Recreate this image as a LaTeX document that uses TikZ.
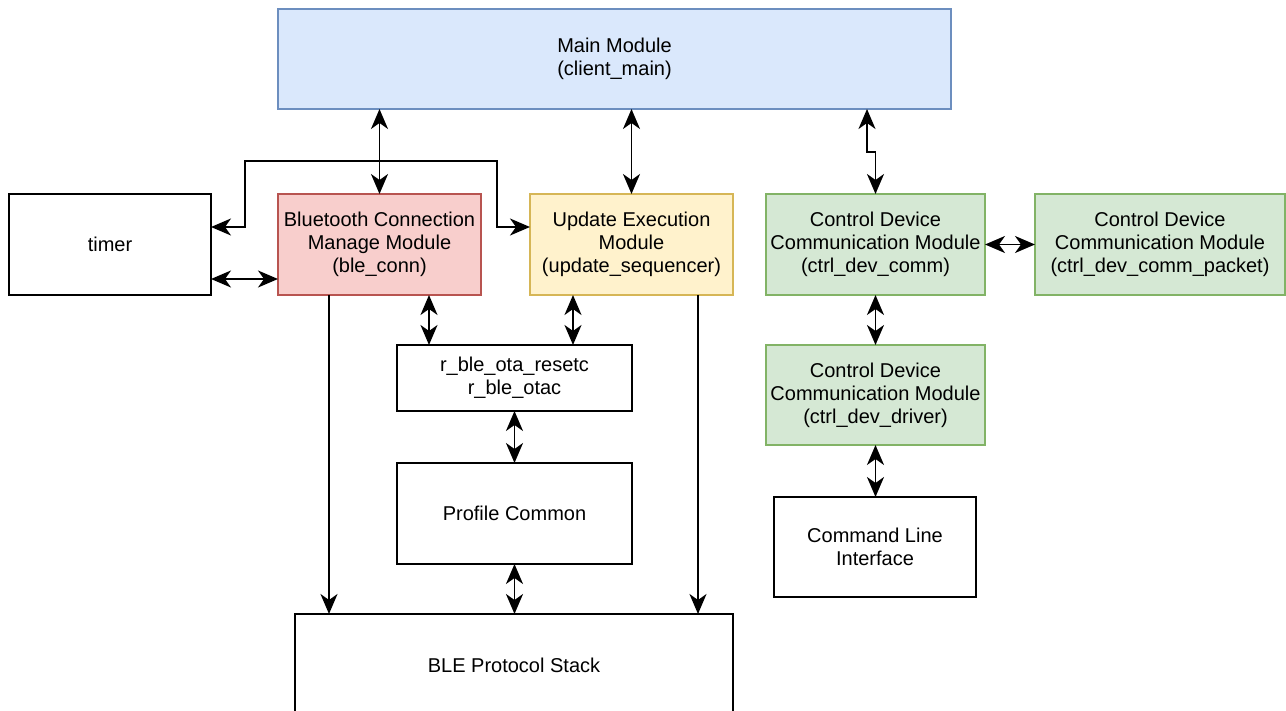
\documentclass[tikz,border=0pt]{standalone}
\usepackage{fontspec}
\setmainfont{Liberation Sans}
\usetikzlibrary{arrows.meta}
\definecolor{bluef}{HTML}{DAE8FC}\definecolor{blues}{HTML}{6C8EBF}
\definecolor{redf}{HTML}{F8CECC}\definecolor{reds}{HTML}{B85450}
\definecolor{yelf}{HTML}{FFF2CC}\definecolor{yels}{HTML}{D6B656}
\definecolor{grnf}{HTML}{D5E8D4}\definecolor{grns}{HTML}{82B366}
\tikzset{
  box/.style={draw=black, fill=white, line width=1.5pt, inner sep=0pt, outer sep=0pt, align=center,
    font=\fontsize{20pt}{23pt}\selectfont},
  bluebox/.style={box, fill=bluef, draw=blues},
  redbox/.style={box, fill=redf, draw=reds},
  yelbox/.style={box, fill=yelf, draw=yels},
  grnbox/.style={box, fill=grnf, draw=grns},
  conn/.style={line width=1.8pt, draw=black, -{Stealth[length=20pt 0 0, width=17pt 0 0, inset=6pt]}},
  bconn/.style={line width=1.8pt, draw=black, {Stealth[length=20pt 0 0, width=17pt 0 0, inset=6pt]}-{Stealth[length=20pt 0 0, width=17pt 0 0, inset=6pt]}}
}
\begin{document}
\begin{tikzpicture}[x=1pt,y=-1pt]
\useasboundingbox (0,0) rectangle (1286,711);
\node[bluebox, minimum width=673pt, minimum height=100pt] (main) at (614.5,59) {Main Module\\(client\_main)};
\node[box, minimum width=202pt, minimum height=101pt] (timer) at (110,244.5) {timer};
\node[redbox, minimum width=203pt, minimum height=101pt] (ble) at (379.5,244.5) {Bluetooth Connection\\Manage Module\\(ble\_conn)};
\node[yelbox, minimum width=203pt, minimum height=101pt] (upd) at (631.5,244.5) {Update Execution\\Module\\(update\_sequencer)};
\node[grnbox, minimum width=219pt, minimum height=101pt] (ctrl) at (875.5,244.5) {Control Device\\Communication Module\\(ctrl\_dev\_comm)};
\node[grnbox, minimum width=250pt, minimum height=101pt] (pkt) at (1160,244.5) {Control Device\\Communication Module\\(ctrl\_dev\_comm\_packet)};
\node[grnbox, minimum width=219pt, minimum height=100pt] (drv) at (875.5,395) {Control Device\\Communication Module\\(ctrl\_dev\_driver)};
\node[box, minimum width=202pt, minimum height=100pt] (cli) at (875,547) {Command Line\\Interface};
\node[box, minimum width=235pt, minimum height=66pt] (rble) at (514.5,378) {r\_ble\_ota\_resetc\\r\_ble\_otac};
\node[box, minimum width=235pt, minimum height=101pt] (prof) at (514.5,513.5) {Profile Common};
\node[box, minimum width=438pt, minimum height=102pt] (stack) at (514,665) {BLE Protocol Stack};

\draw[bconn] (main.south -| ble) -- (ble.north);
\draw[bconn] (main.south -| upd) -- (upd.north);
\draw[bconn] ([xshift=-8.5pt]main.south -| ctrl) -- ++(0,43) -| (ctrl.north);
\draw[bconn] ([yshift=17.5pt]timer.east) -| (245,161) -| (497,227) -- ([yshift=17.5pt]upd.west);
\draw[bconn] ([yshift=-34.5pt]timer.east) -- ([yshift=-34.5pt]ble.west);
\draw[conn] ([xshift=-50.5pt]ble.south) -- ([xshift=-50.5pt]ble.south |- stack.north);
\draw[conn] ([xshift=66.5pt]upd.south) -- ([xshift=66.5pt]upd.south |- stack.north);
\draw[bconn] ([xshift=49.5pt]ble.south) -- ([xshift=49.5pt]ble.south |- rble.north);
\draw[bconn] ([xshift=-58.5pt]upd.south) -- ([xshift=-58.5pt]upd.south |- rble.north);
\draw[bconn] (rble.south) -- (prof.north);
\draw[bconn] (prof.south) -- (stack.north -| prof);
\draw[bconn] (ctrl.east) -- (pkt.west);
\draw[bconn] (ctrl.south) -- (drv.north);
\draw[bconn] (drv.south) -- (drv.south |- cli.north);
\end{tikzpicture}
\end{document}
